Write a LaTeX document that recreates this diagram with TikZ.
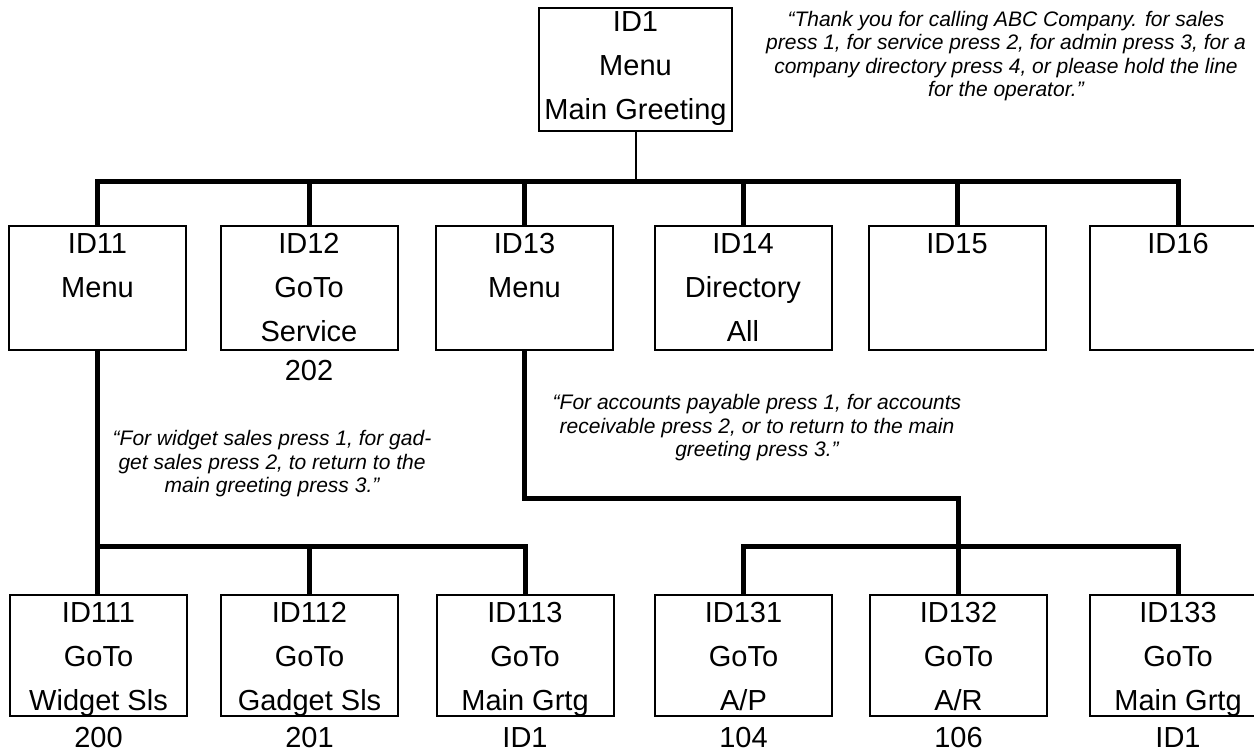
\documentclass[tikz,border=0pt]{standalone}
\usepackage{fontspec}
\setmainfont{Liberation Sans}
\usetikzlibrary{positioning}

\begin{document}
\begin{tikzpicture}[x=1pt,y=-1pt,
    box/.style={draw,line width=2pt,minimum width=177pt,minimum height=124pt,inner sep=0pt},
    boxtext/.style={align=center,inner sep=0pt,font=\fontsize{29}{44}\selectfont},
    num/.style={inner sep=0pt,font=\fontsize{29}{34}\selectfont},
    quote/.style={align=center,inner sep=0pt,font=\fontsize{21}{23.5}\selectfont\itshape},
    bus/.style={line width=5pt,line join=miter},
    ]
    \useasboundingbox (0,0) rectangle (1254,752);

    % rows of the menu tree
    \def\rowone{287.5}
    \def\rowtwo{655.5}

    % main greeting
    \node[box,minimum width=193pt,minimum height=123pt] (id1) at (635.5,69.5) {};
    \node[boxtext,below=4pt of id1.north] (id1t) {ID1\\Menu\\Main Greeting};

    % first level
    \node[box] (id11) at (97.5,\rowone) {};
    \node[box] (id12) at (309,\rowone) {};
    \node[box] (id13) at (524.5,\rowone) {};
    \node[box] (id14) at (743,\rowone) {};
    \node[box] (id15) at (957,\rowone) {};
    \node[box] (id16) at (1178,\rowone) {};
    \node[boxtext,below=9pt of id11.north] (id11t) {ID11\\Menu};
    \node[boxtext,below=9pt of id12.north] (id12t) {ID12\\GoTo\\Service};
    \node[boxtext,below=9pt of id13.north] (id13t) {ID13\\Menu};
    \node[boxtext,below=9pt of id14.north] (id14t) {ID14\\Directory\\All};
    \node[boxtext,below=9pt of id15.north] (id15t) {ID15};
    \node[boxtext,below=9pt of id16.north] (id16t) {ID16};
    \node[num,below=10pt of id12.south] (n202) {202};

    % second level
    \node[box,minimum height=121pt] (id111) at (98.5,\rowtwo) {};
    \node[box,minimum height=121pt] (id112) at (309.5,\rowtwo) {};
    \node[box,minimum height=121pt] (id113) at (525,\rowtwo) {};
    \node[box,minimum height=121pt] (id131) at (743.5,\rowtwo) {};
    \node[box,minimum height=121pt] (id132) at (958.5,\rowtwo) {};
    \node[box,minimum height=121pt] (id133) at (1178,\rowtwo) {};
    \node[boxtext,below=8pt of id111.north] (id111t) {ID111\\GoTo\\Widget Sls};
    \node[boxtext,below=8pt of id112.north] (id112t) {ID112\\GoTo\\Gadget Sls};
    \node[boxtext,below=8pt of id113.north] (id113t) {ID113\\GoTo\\Main Grtg};
    \node[boxtext,below=8pt of id131.north] (id131t) {ID131\\GoTo\\A/P};
    \node[boxtext,below=8pt of id132.north] (id132t) {ID132\\GoTo\\A/R};
    \node[boxtext,below=8pt of id133.north] (id133t) {ID133\\GoTo\\Main Grtg};
    \node[num,below=10pt of id111.south] (n200) {200};
    \node[num,below=10pt of id112.south] (n201) {201};
    \node[num,below=10pt of id113.south] (n113) {ID1};
    \node[num,below=10pt of id131.south] (n104) {104};
    \node[num,below=10pt of id132.south] (n106) {106};
    \node[num,below=10pt of id133.south] (n133) {ID1};

    % prompts
    \node[quote] (q1) at (1006,56) {“Thank you for calling ABC Company. for sales\\press 1, for service press 2, for admin press 3, for a\\company directory press 4, or please hold the line\\for the operator.”};
    \node[quote] (q11) at (272,464) {“For widget sales press 1, for gad-\\get sales press 2, to return to the\\main greeting press 3.”};
    \node[quote] (q13) at (757,428) {“For accounts payable press 1, for accounts\\receivable press 2, or to return to the main\\greeting press 3.”};

    % bus lines
    \coordinate (b1) at (0,181);
    \coordinate (b2) at (0,546);
    \coordinate (j13) at (0,498);

    \draw[line width=2pt] (id1.south) -- (id1.south |- b1);
    \draw[bus] (id11.north) -- (id11.north |- b1) -- (id16.north |- b1) -- (id16.north);
    \foreach \n in {id12,id13,id14,id15}
        \draw[bus] (\n.north |- b1) -- (\n.north);

    \draw[bus] (id11.south) -- (id11.south |- id111.north);
    \draw[bus] (id11.south |- b2) -- (id113.north |- b2) -- (id113.north);
    \draw[bus] (id112.north |- b2) -- (id112.north);

    \draw[bus] (id13.south) -- (id13.south |- j13) -- (id132.north |- j13) -- (id132.north);
    \draw[bus] (id131.north) -- (id131.north |- b2) -- (id133.north |- b2) -- (id133.north);
\end{tikzpicture}
\end{document}
